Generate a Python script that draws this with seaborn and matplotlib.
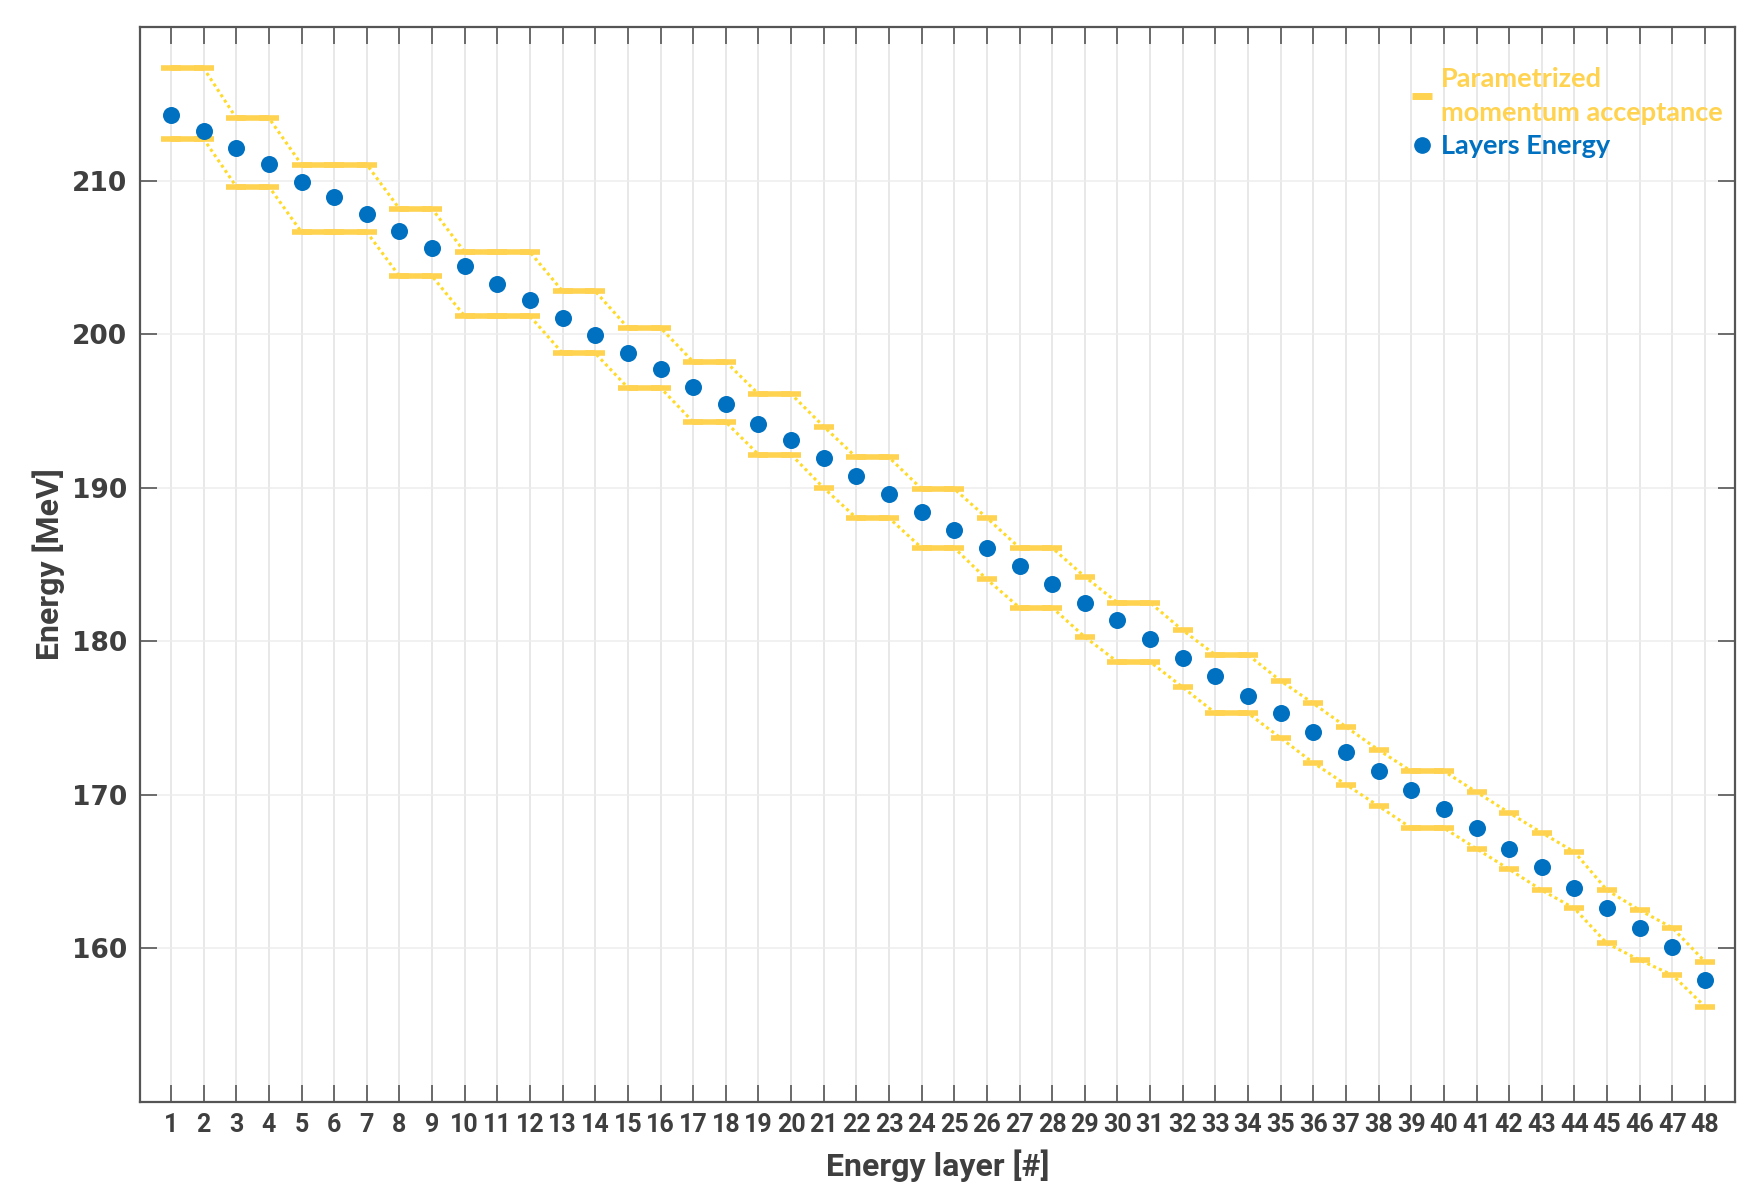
"""Layer energies with parametrized momentum acceptance band (saved as out.png)."""

import matplotlib

matplotlib.use("Agg")
import matplotlib.pyplot as plt
from matplotlib.lines import Line2D
import pandas as pd
import seaborn as sns

# energy layer index
layers = list(range(1, 49))

# layer energies [MeV]
energy = [
    214.29, 213.25, 212.12, 211.08, 209.89, 208.96, 207.79, 206.71, 205.63, 204.44,
    203.29, 202.21, 201.02, 199.96, 198.79, 197.71, 196.54, 195.45, 194.16, 193.12,
    191.93, 190.78, 189.59, 188.42, 187.23, 186.08, 184.89, 183.70, 182.51, 181.38,
    180.17, 178.94, 177.71, 176.45, 175.30, 174.11, 172.81, 171.54, 170.34, 169.07,
    167.82, 166.49, 165.30, 163.94, 162.66, 161.36, 160.06, 157.94,
]

# upper edge of the momentum acceptance [MeV]
upper = [
    217.32, 217.32, 214.07, 214.07, 211.04, 211.04, 211.04, 208.16, 208.16, 205.34,
    205.34, 205.34, 202.79, 202.79, 200.41, 200.41, 198.20, 198.20, 196.10, 196.10,
    193.98, 191.97, 191.97, 189.92, 189.92, 188.03, 186.08, 186.08, 184.20, 182.51,
    182.51, 180.71, 179.11, 179.11, 177.42, 175.95, 174.43, 172.92, 171.54, 171.54,
    170.18, 168.83, 167.53, 166.28, 163.79, 162.49, 161.34, 159.14,
]

# lower edge of the momentum acceptance [MeV]
lower = [
    212.71, 212.71, 209.61, 209.61, 206.64, 206.64, 206.64, 203.77, 203.77, 201.17,
    201.17, 201.17, 198.75, 198.75, 196.51, 196.51, 194.27, 194.27, 192.16, 192.16,
    189.98, 188.03, 188.03, 186.08, 186.08, 184.03, 182.19, 182.19, 180.28, 178.66,
    178.66, 177.00, 175.32, 175.32, 173.70, 172.08, 170.67, 169.27, 167.84, 167.84,
    166.49, 165.15, 163.79, 162.60, 160.32, 159.24, 158.27, 156.21,
]

y_ticks = [160, 170, 180, 190, 200, 210]

BLUE = "#0070C0"
GOLD = "#FFD24F"
DOT_GOLD = "#FFDA2A"
TEXT = "#3F3F3F"
NARROW = ["Roboto", "DejaVu Sans"]

sns.set_style("ticks")
plt.rcParams["font.family"] = ["DejaVu Sans"]

df = pd.DataFrame({"layer": layers, "energy": energy, "upper": upper, "lower": lower})

fig = plt.figure(figsize=(17.65, 11.83), dpi=100)
ax = fig.add_axes([0.0793, 0.0685, 0.9037, 0.9087])

for col in ("upper", "lower"):
    # dotted connector through every layer
    sns.lineplot(data=df, x="layer", y=col, ax=ax, color=DOT_GOLD, lw=2.2,
                 linestyle=(0, (1, 1.1)), legend=False, zorder=2)
    # short bar on each layer
    sns.scatterplot(data=df, x="layer", y=col, ax=ax, marker="_", s=210,
                    linewidth=4, color=GOLD, legend=False, zorder=3)
    # solid bar where neighbouring layers share the same edge value
    vals = df[col].to_numpy()
    start = 0
    for i in range(1, len(vals) + 1):
        if i == len(vals) or vals[i] != vals[start]:
            if i - start > 1:
                ax.plot([layers[start], layers[i - 1]], [vals[start], vals[start]],
                        color=GOLD, lw=4, solid_capstyle="butt", zorder=3)
            start = i

sns.scatterplot(data=df, x="layer", y="energy", ax=ax, color=BLUE, s=150,
                edgecolor=BLUE, linewidth=0, legend=False, zorder=4)

ax.set_xlim(0.05, 48.92)
ax.set_ylim(150, 220)
ax.set_xticks(layers)
ax.set_yticks(y_ticks)
ax.set_axisbelow(True)
ax.grid(axis="x", color="#E2E2E2", lw=1.1)
ax.grid(axis="y", color="#EDEDED", lw=1.1)

for side in ax.spines.values():
    side.set_visible(True)
    side.set_color("#555555")
    side.set_linewidth(1.6)

ax.tick_params(direction="in", length=12, width=1.2, color="#555555",
               top=True, right=True, labelcolor=TEXT)
ax.tick_params(axis="x", pad=8)
ax.tick_params(axis="y", pad=9)
for lab in ax.get_xticklabels():
    lab.set_family(NARROW)
    lab.set_fontsize(18)
    lab.set_fontweight("bold")
for lab in ax.get_yticklabels():
    lab.set_fontsize(19)
    lab.set_fontweight("bold")

ax.set_xlabel("Energy layer [#]", family=NARROW, fontsize=23, fontweight="bold",
              color=TEXT, labelpad=9)
ax.set_ylabel("Energy [MeV]", family=NARROW, fontsize=23, fontweight="bold",
              color=TEXT, labelpad=5)

handles = [
    Line2D([], [], ls="none", marker="_", color=GOLD, markersize=14, markeredgewidth=5),
    Line2D([], [], ls="none", marker="o", color=BLUE, markersize=11),
]
leg = ax.legend(handles, ["Parametrized\nmomentum acceptance", "Layers Energy"],
                loc="upper left", bbox_to_anchor=(0.797, 0.963), frameon=False,
                borderaxespad=0, borderpad=0, handlelength=0.8, handletextpad=0.3,
                labelspacing=0.35, prop={"family": "Lato", "weight": "bold", "size": 19.5})
for txt, c in zip(leg.get_texts(), [GOLD, BLUE]):
    txt.set_color(c)
    txt.set_linespacing(1.5)

fig.savefig("out.png", dpi=100)
plt.close(fig)
